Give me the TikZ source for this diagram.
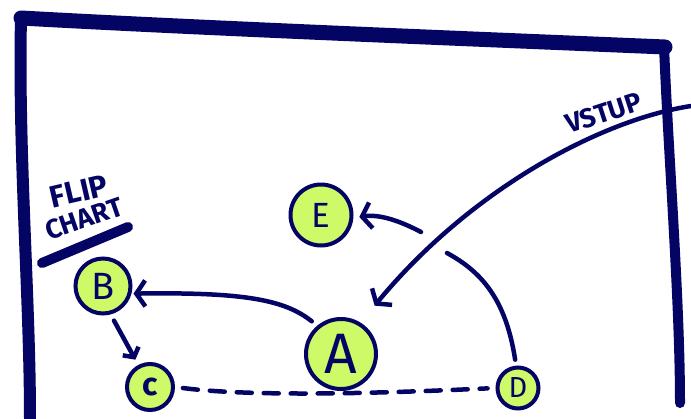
\documentclass[tikz,border=0pt]{standalone}
\usepackage{fontspec}
\setsansfont{Fira Sans}
\usetikzlibrary{arrows.meta}
\definecolor{navy}{RGB}{4,4,100}
\definecolor{lime}{RGB}{206,250,104}
\tikzset{
  spot/.style={circle, draw=navy, fill=lime, line width=4pt, inner sep=0pt, text=navy, font=\sffamily},
  link/.style={draw=navy, line width=4.5pt, line cap=round},
  barb/.style={-{Straight Barb[length=9pt,width=26pt,line width=4.5pt]}},
  smallbarb/.style={-{Straight Barb[length=7pt,width=18pt,line width=4.5pt]}},
  wall/.style={draw=navy, line cap=round, line join=round},
  hand/.style={text=navy, font=\sffamily\bfseries, inner sep=0pt}
}
\begin{document}
\begin{tikzpicture}[x=1pt,y=-1pt]
\useasboundingbox (0,0) rectangle (691,418);
% frame
\draw[wall, line width=12pt] (21,18) .. controls (18,150) and (30,300) .. (30,418);
\draw[wall, line width=10pt] (664,45) .. controls (668,150) and (680,300) .. (680,403);
\draw[wall, line width=15pt] (21,18) .. controls (200,28) and (450,38) .. (665,47);
% nodes
\node[spot, minimum width=61pt, minimum height=56pt, font=\sffamily\fontsize{35}{35}\selectfont] (E) at (321,215) {E};
\node[spot, minimum width=55pt, minimum height=54pt, font=\sffamily\fontsize{38}{38}\selectfont] (B) at (103,286) {B};
\node[spot, minimum width=70pt, minimum height=65pt, font=\sffamily\fontsize{57}{57}\selectfont] (A) at (341,354) {A};
\node[spot, minimum width=46pt, minimum height=41pt, font=\sffamily\bfseries\fontsize{32}{32}\selectfont] (C) at (150,387) {c};
\node[spot, minimum width=38pt, minimum height=41pt, font=\sffamily\fontsize{29}{29}\selectfont] (D) at (518,388) {D};
% labels
\node[hand, rotate=13, font=\sffamily\bfseries\fontsize{31}{31}\selectfont] (flip) at (79,191) {FLIP};
\node[hand, rotate=19, font=\sffamily\bfseries\fontsize{27}{27}\selectfont] (chart) at (84,219) {CHART};
\coordinate (barL) at (42,263);
\coordinate (barR) at (128,227);
\draw[navy, line width=10pt, line cap=round] (barL) -- (barR);
\node[hand, rotate=18, font=\sffamily\bfseries\fontsize{27}{27}\selectfont] (vstup) at (604,113) {VSTUP};
% connectors
\draw[link, barb, shorten <=7pt, shorten >=2pt] (A.130) .. controls (285,300) and (245,292) .. (B.-15);
\draw[link, smallbarb, shorten <=7pt, shorten >=6pt] (B.-75) -- (C.118);
\draw[link, dash pattern=on 15pt off 12pt, shorten <=8pt, shorten >=8pt] (C.east) .. controls (260,398) and (410,392) .. (D.west);
\coordinate (gapD) at (447,253);
\coordinate (gapE) at (421,232);
\draw[link, shorten <=6pt] (D.95) .. controls (506,300) and (482,272) .. (gapD);
\draw[link, barb, shorten >=6pt] (gapE) .. controls (400,221) and (380,214) .. (E.-5);
\coordinate (vin) at (691,106);
\draw[link, barb, shorten >=22pt] (vin) .. controls (600,120) and (470,190) .. (A.58);
\end{tikzpicture}
\end{document}
